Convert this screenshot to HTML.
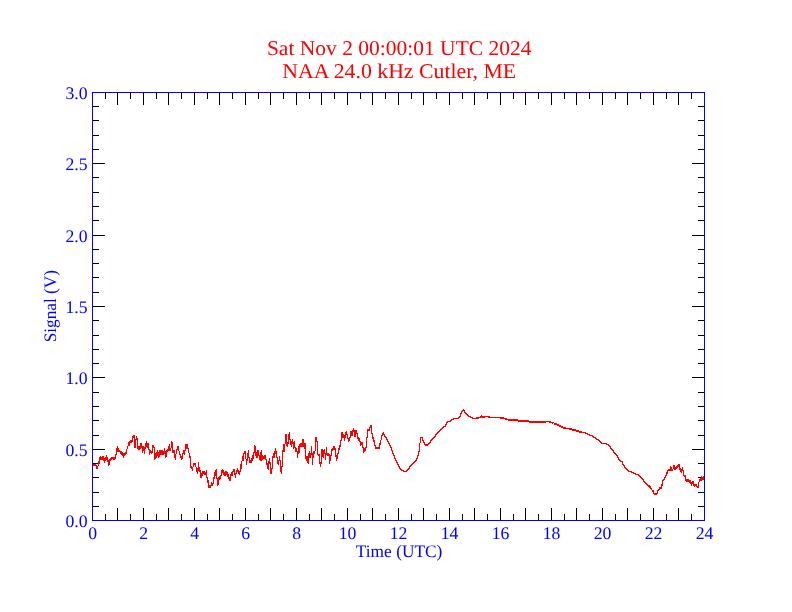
<!DOCTYPE html>
<html><head><meta charset="utf-8"><style>
html,body{margin:0;padding:0;background:#fff;width:792px;height:612px;overflow:hidden}
svg{display:block;will-change:transform;text-rendering:geometricPrecision;font-family:"Liberation Serif",serif}
</style></head><body><svg width="792" height="612" viewBox="0 0 792 612" font-family="Liberation Serif, serif"><path d="M105.5 520v-6M105.5 93v6M117.5 520v-12M117.5 93v12M130.5 520v-6M130.5 93v6M143.5 520v-12M143.5 93v12M156.5 520v-6M156.5 93v6M168.5 520v-12M168.5 93v12M181.5 520v-6M181.5 93v6M194.5 520v-12M194.5 93v12M207.5 520v-6M207.5 93v6M219.5 520v-12M219.5 93v12M232.5 520v-6M232.5 93v6M245.5 520v-12M245.5 93v12M258.5 520v-6M258.5 93v6M270.5 520v-12M270.5 93v12M283.5 520v-6M283.5 93v6M296.5 520v-12M296.5 93v12M309.5 520v-6M309.5 93v6M321.5 520v-12M321.5 93v12M334.5 520v-6M334.5 93v6M347.5 520v-12M347.5 93v12M360.5 520v-6M360.5 93v6M372.5 520v-12M372.5 93v12M385.5 520v-6M385.5 93v6M398.5 520v-12M398.5 93v12M411.5 520v-6M411.5 93v6M423.5 520v-12M423.5 93v12M436.5 520v-6M436.5 93v6M449.5 520v-12M449.5 93v12M462.5 520v-6M462.5 93v6M474.5 520v-12M474.5 93v12M487.5 520v-6M487.5 93v6M500.5 520v-12M500.5 93v12M513.5 520v-6M513.5 93v6M525.5 520v-12M525.5 93v12M538.5 520v-6M538.5 93v6M551.5 520v-12M551.5 93v12M564.5 520v-6M564.5 93v6M576.5 520v-12M576.5 93v12M589.5 520v-6M589.5 93v6M602.5 520v-12M602.5 93v12M615.5 520v-6M615.5 93v6M627.5 520v-12M627.5 93v12M640.5 520v-6M640.5 93v6M653.5 520v-12M653.5 93v12M666.5 520v-6M666.5 93v6M678.5 520v-12M678.5 93v12M691.5 520v-6M691.5 93v6M93 506.5h6M704 506.5h-6M93 492.5h6M704 492.5h-6M93 477.5h6M704 477.5h-6M93 463.5h6M704 463.5h-6M93 449.5h12M704 449.5h-12M93 435.5h6M704 435.5h-6M93 420.5h6M704 420.5h-6M93 406.5h6M704 406.5h-6M93 392.5h6M704 392.5h-6M93 377.5h12M704 377.5h-12M93 363.5h6M704 363.5h-6M93 349.5h6M704 349.5h-6M93 335.5h6M704 335.5h-6M93 320.5h6M704 320.5h-6M93 306.5h12M704 306.5h-12M93 292.5h6M704 292.5h-6M93 277.5h6M704 277.5h-6M93 263.5h6M704 263.5h-6M93 249.5h6M704 249.5h-6M93 235.5h12M704 235.5h-12M93 220.5h6M704 220.5h-6M93 206.5h6M704 206.5h-6M93 192.5h6M704 192.5h-6M93 177.5h6M704 177.5h-6M93 163.5h12M704 163.5h-12M93 149.5h6M704 149.5h-6M93 135.5h6M704 135.5h-6M93 120.5h6M704 120.5h-6M93 106.5h6M704 106.5h-6" stroke="#000" stroke-width="1" fill="none" shape-rendering="crispEdges"/><path d="M93 464h1v2h-1zM94 464h1v2h-1zM95 464h1v2h-1zM96 465h1v4h-1zM97 466h1v3h-1zM98 461h1v5h-1zM99 457h1v7h-1zM100 456h1v4h-1zM101 457h1v3h-1zM102 456h1v4h-1zM103 456h1v5h-1zM104 458h1v5h-1zM105 457h1v4h-1zM106 455h1v5h-1zM107 457h1v5h-1zM108 460h1v6h-1zM109 459h1v6h-1zM110 458h1v3h-1zM111 457h1v3h-1zM112 457h1v2h-1zM113 457h1v3h-1zM114 457h1v3h-1zM115 454h1v5h-1zM116 448h1v7h-1zM117 446h1v6h-1zM118 448h1v4h-1zM119 450h1v2h-1zM120 451h1v3h-1zM121 451h1v4h-1zM122 452h1v4h-1zM123 453h1v5h-1zM124 453h1v3h-1zM125 452h1v3h-1zM126 449h1v5h-1zM127 446h1v3h-1zM128 442h1v4h-1zM129 441h1v5h-1zM130 440h1v3h-1zM131 440h1v3h-1zM132 436h1v6h-1zM133 435h1v3h-1zM134 435h1v13h-1zM135 439h1v9h-1zM136 436h1v4h-1zM137 438h1v11h-1zM138 446h1v4h-1zM139 446h1v4h-1zM140 443h1v6h-1zM141 443h1v5h-1zM142 446h1v7h-1zM143 446h1v5h-1zM144 447h1v7h-1zM145 443h1v6h-1zM146 441h1v6h-1zM147 443h1v5h-1zM148 443h1v7h-1zM149 449h1v6h-1zM150 450h1v3h-1zM151 451h1v3h-1zM152 445h1v8h-1zM153 445h1v3h-1zM154 447h1v13h-1zM155 453h1v6h-1zM156 452h1v6h-1zM157 450h1v6h-1zM158 452h1v6h-1zM159 450h1v7h-1zM160 450h1v5h-1zM161 450h1v5h-1zM162 450h1v5h-1zM163 451h1v4h-1zM164 448h1v6h-1zM165 451h1v7h-1zM166 450h1v7h-1zM167 449h1v3h-1zM168 446h1v5h-1zM169 444h1v7h-1zM170 448h1v3h-1zM171 441h1v7h-1zM172 442h1v11h-1zM173 450h1v3h-1zM174 450h1v8h-1zM175 454h1v6h-1zM176 449h1v5h-1zM177 446h1v4h-1zM178 446h1v5h-1zM179 451h1v4h-1zM180 454h1v4h-1zM181 456h1v4h-1zM182 453h1v6h-1zM183 450h1v4h-1zM184 450h1v5h-1zM185 444h1v7h-1zM186 444h1v5h-1zM187 444h1v5h-1zM188 448h1v5h-1zM189 453h1v5h-1zM190 456h1v12h-1zM191 466h1v3h-1zM192 467h1v4h-1zM193 463h1v4h-1zM194 463h1v2h-1zM195 463h1v4h-1zM196 467h1v5h-1zM197 468h1v6h-1zM198 462h1v9h-1zM199 467h1v5h-1zM200 470h1v8h-1zM201 473h1v5h-1zM202 471h1v5h-1zM203 471h1v3h-1zM204 471h1v4h-1zM205 472h1v3h-1zM206 470h1v8h-1zM207 477h1v6h-1zM208 480h1v8h-1zM209 485h1v3h-1zM210 485h1v3h-1zM211 482h1v4h-1zM212 483h1v3h-1zM213 477h1v7h-1zM214 472h1v7h-1zM215 470h1v6h-1zM216 469h1v10h-1zM217 478h1v8h-1zM218 477h1v8h-1zM219 476h1v4h-1zM220 475h1v4h-1zM221 470h1v6h-1zM222 469h1v4h-1zM223 470h1v5h-1zM224 472h1v4h-1zM225 471h1v5h-1zM226 471h1v4h-1zM227 472h1v5h-1zM228 474h1v5h-1zM229 477h1v4h-1zM230 474h1v7h-1zM231 472h1v4h-1zM232 471h1v5h-1zM233 469h1v3h-1zM234 469h1v6h-1zM235 473h1v5h-1zM236 470h1v4h-1zM237 468h1v4h-1zM238 470h1v4h-1zM239 471h1v4h-1zM240 464h1v8h-1zM241 461h1v8h-1zM242 456h1v5h-1zM243 453h1v8h-1zM244 451h1v3h-1zM245 451h1v8h-1zM246 459h1v6h-1zM247 453h1v8h-1zM248 450h1v8h-1zM249 457h1v6h-1zM250 460h1v3h-1zM251 458h1v5h-1zM252 455h1v6h-1zM253 452h1v7h-1zM254 445h1v8h-1zM255 446h1v10h-1zM256 452h1v6h-1zM257 450h1v8h-1zM258 450h1v6h-1zM259 455h1v5h-1zM260 452h1v9h-1zM261 450h1v11h-1zM262 455h1v5h-1zM263 456h1v3h-1zM264 455h1v4h-1zM265 455h1v5h-1zM266 459h1v6h-1zM267 463h1v6h-1zM268 461h1v9h-1zM269 458h1v6h-1zM270 462h1v12h-1zM271 468h1v6h-1zM272 456h1v13h-1zM273 453h1v5h-1zM274 451h1v7h-1zM275 448h1v6h-1zM276 451h1v7h-1zM277 457h1v7h-1zM278 460h1v5h-1zM279 456h1v5h-1zM280 460h1v12h-1zM281 466h1v8h-1zM282 450h1v17h-1zM283 444h1v8h-1zM284 444h1v8h-1zM285 434h1v10h-1zM286 434h1v12h-1zM287 442h1v5h-1zM288 434h1v10h-1zM289 432h1v8h-1zM290 439h1v6h-1zM291 441h1v6h-1zM292 439h1v5h-1zM293 442h1v7h-1zM294 441h1v7h-1zM295 447h1v5h-1zM296 448h1v4h-1zM297 451h1v7h-1zM298 446h1v8h-1zM299 444h1v9h-1zM300 443h1v4h-1zM301 443h1v4h-1zM302 439h1v8h-1zM303 439h1v8h-1zM304 443h1v6h-1zM305 443h1v16h-1zM306 456h1v5h-1zM307 456h1v7h-1zM308 453h1v11h-1zM309 451h1v7h-1zM310 453h1v5h-1zM311 446h1v9h-1zM312 453h1v12h-1zM313 451h1v7h-1zM314 451h1v3h-1zM315 437h1v14h-1zM316 437h1v5h-1zM317 441h1v14h-1zM318 454h1v2h-1zM319 454h1v10h-1zM320 462h1v5h-1zM321 449h1v15h-1zM322 449h1v8h-1zM323 450h1v8h-1zM324 449h1v5h-1zM325 453h1v7h-1zM326 447h1v8h-1zM327 453h1v3h-1zM328 453h1v3h-1zM329 454h1v10h-1zM330 455h1v6h-1zM331 449h1v7h-1zM332 448h1v3h-1zM333 446h1v4h-1zM334 446h1v4h-1zM335 448h1v9h-1zM336 455h1v6h-1zM337 453h1v6h-1zM338 448h1v6h-1zM339 445h1v5h-1zM340 440h1v7h-1zM341 432h1v9h-1zM342 432h1v6h-1zM343 434h1v4h-1zM344 435h1v6h-1zM345 432h1v6h-1zM346 431h1v4h-1zM347 434h1v5h-1zM348 438h1v4h-1zM349 437h1v4h-1zM350 431h1v7h-1zM351 431h1v5h-1zM352 430h1v6h-1zM353 428h1v4h-1zM354 430h1v7h-1zM355 430h1v7h-1zM356 430h1v4h-1zM357 433h1v6h-1zM358 437h1v4h-1zM359 438h1v4h-1zM360 441h1v5h-1zM361 442h1v3h-1zM362 442h1v6h-1zM363 447h1v6h-1zM364 448h1v4h-1zM365 447h1v4h-1zM366 437h1v11h-1zM367 429h1v9h-1zM368 429h1v2h-1zM369 427h1v4h-1zM370 425h1v3h-1zM371 425h1v9h-1zM372 433h1v6h-1zM373 437h1v5h-1zM374 440h1v6h-1zM375 445h1v4h-1zM376 447h1v2h-1zM377 447h1v2h-1zM378 447h1v2h-1zM379 443h1v6h-1zM380 440h1v5h-1zM381 435h1v5h-1zM382 433h1v3h-1zM383 432h1v3h-1zM384 434h1v3h-1zM385 436h1v2h-1zM386 437h1v3h-1zM387 439h1v3h-1zM388 441h1v3h-1zM389 443h1v3h-1zM390 445h1v3h-1zM391 447h1v4h-1zM392 450h1v4h-1zM393 453h1v3h-1zM394 455h1v4h-1zM395 458h1v3h-1zM396 460h1v3h-1zM397 462h1v3h-1zM398 464h1v3h-1zM399 466h1v3h-1zM400 468h1v2h-1zM401 469h1v2h-1zM402 470h1v1h-1zM403 470h1v2h-1zM404 471h1v1h-1zM405 471h1v1h-1zM406 470h1v2h-1zM407 469h1v2h-1zM408 468h1v2h-1zM409 466h1v3h-1zM410 465h1v2h-1zM411 464h1v2h-1zM412 463h1v2h-1zM413 462h1v2h-1zM414 461h1v2h-1zM415 460h1v2h-1zM416 458h1v3h-1zM417 455h1v4h-1zM418 451h1v5h-1zM419 443h1v9h-1zM420 437h1v6h-1zM421 437h1v1h-1zM422 437h1v4h-1zM423 440h1v3h-1zM424 442h1v3h-1zM425 444h1v2h-1zM426 444h1v2h-1zM427 444h1v2h-1zM428 443h1v2h-1zM429 442h1v2h-1zM430 440h1v3h-1zM431 439h1v2h-1zM432 438h1v2h-1zM433 437h1v2h-1zM434 436h1v2h-1zM435 434h1v3h-1zM436 433h1v2h-1zM437 432h1v2h-1zM438 431h1v2h-1zM439 430h1v2h-1zM440 429h1v2h-1zM441 428h1v2h-1zM442 427h1v2h-1zM443 426h1v2h-1zM444 426h1v1h-1zM445 424h1v3h-1zM446 422h1v3h-1zM447 421h1v2h-1zM448 421h1v1h-1zM449 421h1v1h-1zM450 420h1v2h-1zM451 419h1v2h-1zM452 419h1v1h-1zM453 418h1v2h-1zM454 418h1v1h-1zM455 418h1v1h-1zM456 418h1v1h-1zM457 418h1v1h-1zM458 417h1v2h-1zM459 416h1v2h-1zM460 413h1v4h-1zM461 411h1v3h-1zM462 410h1v2h-1zM463 409h1v2h-1zM464 410h1v3h-1zM465 412h1v2h-1zM466 413h1v2h-1zM467 414h1v2h-1zM468 415h1v2h-1zM469 416h1v1h-1zM470 416h1v2h-1zM471 417h1v1h-1zM472 417h1v2h-1zM473 418h1v1h-1zM474 418h1v1h-1zM475 418h1v1h-1zM476 417h1v2h-1zM477 417h1v2h-1zM478 417h1v2h-1zM479 417h1v1h-1zM480 416h1v2h-1zM481 415h1v3h-1zM482 416h1v2h-1zM483 416h1v2h-1zM484 416h1v2h-1zM485 416h1v1h-1zM486 416h1v1h-1zM487 416h1v1h-1zM488 416h1v2h-1zM489 416h1v2h-1zM490 417h1v1h-1zM491 417h1v1h-1zM492 417h1v1h-1zM493 417h1v1h-1zM494 417h1v1h-1zM495 417h1v1h-1zM496 417h1v1h-1zM497 417h1v1h-1zM498 417h1v1h-1zM499 417h1v1h-1zM500 417h1v2h-1zM501 417h1v2h-1zM502 417h1v2h-1zM503 417h1v2h-1zM504 418h1v1h-1zM505 418h1v2h-1zM506 418h1v2h-1zM507 419h1v1h-1zM508 419h1v2h-1zM509 419h1v2h-1zM510 419h1v2h-1zM511 419h1v2h-1zM512 419h1v2h-1zM513 419h1v2h-1zM514 419h1v2h-1zM515 419h1v2h-1zM516 419h1v2h-1zM517 419h1v2h-1zM518 420h1v2h-1zM519 420h1v2h-1zM520 420h1v2h-1zM521 420h1v2h-1zM522 420h1v2h-1zM523 420h1v2h-1zM524 420h1v2h-1zM525 420h1v2h-1zM526 420h1v2h-1zM527 420h1v2h-1zM528 420h1v2h-1zM529 421h1v2h-1zM530 421h1v2h-1zM531 421h1v2h-1zM532 421h1v2h-1zM533 421h1v2h-1zM534 421h1v2h-1zM535 421h1v2h-1zM536 421h1v2h-1zM537 421h1v2h-1zM538 421h1v2h-1zM539 421h1v2h-1zM540 421h1v2h-1zM541 421h1v2h-1zM542 421h1v2h-1zM543 421h1v2h-1zM544 421h1v2h-1zM545 421h1v2h-1zM546 421h1v1h-1zM547 421h1v1h-1zM548 421h1v1h-1zM549 421h1v2h-1zM550 421h1v2h-1zM551 422h1v1h-1zM552 422h1v2h-1zM553 422h1v1h-1zM554 423h1v2h-1zM555 423h1v2h-1zM556 423h1v2h-1zM557 424h1v2h-1zM558 424h1v2h-1zM559 425h1v2h-1zM560 425h1v2h-1zM561 426h1v2h-1zM562 426h1v2h-1zM563 427h1v2h-1zM564 427h1v2h-1zM565 427h1v2h-1zM566 428h1v1h-1zM567 428h1v1h-1zM568 428h1v1h-1zM569 428h1v2h-1zM570 428h1v2h-1zM571 428h1v2h-1zM572 429h1v2h-1zM573 429h1v2h-1zM574 429h1v2h-1zM575 429h1v2h-1zM576 430h1v2h-1zM577 430h1v2h-1zM578 430h1v2h-1zM579 431h1v2h-1zM580 431h1v2h-1zM581 431h1v2h-1zM582 432h1v1h-1zM583 432h1v1h-1zM584 432h1v1h-1zM585 432h1v2h-1zM586 433h1v1h-1zM587 433h1v2h-1zM588 434h1v1h-1zM589 434h1v2h-1zM590 435h1v1h-1zM591 435h1v1h-1zM592 435h1v2h-1zM593 436h1v2h-1zM594 437h1v1h-1zM595 437h1v2h-1zM596 438h1v2h-1zM597 439h1v1h-1zM598 439h1v2h-1zM599 440h1v2h-1zM600 441h1v2h-1zM601 442h1v2h-1zM602 443h1v1h-1zM603 443h1v1h-1zM604 443h1v1h-1zM605 443h1v1h-1zM606 443h1v2h-1zM607 444h1v1h-1zM608 444h1v2h-1zM609 445h1v2h-1zM610 446h1v3h-1zM611 448h1v2h-1zM612 449h1v2h-1zM613 450h1v3h-1zM614 452h1v2h-1zM615 453h1v2h-1zM616 454h1v2h-1zM617 455h1v3h-1zM618 457h1v3h-1zM619 459h1v2h-1zM620 460h1v2h-1zM621 461h1v1h-1zM622 461h1v4h-1zM623 464h1v2h-1zM624 465h1v3h-1zM625 467h1v2h-1zM626 468h1v2h-1zM627 469h1v2h-1zM628 470h1v2h-1zM629 471h1v1h-1zM630 471h1v1h-1zM631 471h1v2h-1zM632 472h1v1h-1zM633 472h1v2h-1zM634 473h1v1h-1zM635 473h1v2h-1zM636 474h1v1h-1zM637 474h1v1h-1zM638 474h1v2h-1zM639 475h1v2h-1zM640 476h1v2h-1zM641 477h1v2h-1zM642 478h1v2h-1zM643 479h1v3h-1zM644 481h1v2h-1zM645 482h1v2h-1zM646 483h1v2h-1zM647 484h1v2h-1zM648 485h1v2h-1zM649 485h1v3h-1zM650 486h1v3h-1zM651 488h1v2h-1zM652 490h1v2h-1zM653 490h1v4h-1zM654 493h1v2h-1zM655 493h1v2h-1zM656 493h1v2h-1zM657 490h1v4h-1zM658 489h1v2h-1zM659 487h1v3h-1zM660 487h1v2h-1zM661 484h1v5h-1zM662 480h1v6h-1zM663 479h1v2h-1zM664 477h1v3h-1zM665 475h1v3h-1zM666 472h1v4h-1zM667 470h1v4h-1zM668 469h1v2h-1zM669 469h1v2h-1zM670 466h1v5h-1zM671 467h1v4h-1zM672 469h1v2h-1zM673 465h1v4h-1zM674 465h1v5h-1zM675 467h1v3h-1zM676 466h1v3h-1zM677 465h1v3h-1zM678 464h1v3h-1zM679 464h1v6h-1zM680 468h1v4h-1zM681 469h1v4h-1zM682 467h1v4h-1zM683 470h1v6h-1zM684 475h1v2h-1zM685 475h1v6h-1zM686 479h1v3h-1zM687 479h1v3h-1zM688 479h1v3h-1zM689 480h1v3h-1zM690 480h1v4h-1zM691 482h1v4h-1zM692 481h1v3h-1zM693 481h1v5h-1zM694 484h1v3h-1zM695 484h1v2h-1zM696 484h1v3h-1zM697 486h1v2h-1zM698 482h1v6h-1zM699 479h1v3h-1zM700 478h1v3h-1zM701 476h1v5h-1zM702 477h1v3h-1zM703 476h1v4h-1z" fill="#f00" shape-rendering="crispEdges"/><path d="M92.5 92.5H704.5V520.5H92.5Z" fill="none" stroke="#00f" stroke-width="1" shape-rendering="crispEdges"/><g fill="#00f" font-size="17"><text x="92.6" y="539.4" font-size="17.7" text-anchor="middle">0</text><text x="143.6" y="539.4" font-size="17.7" text-anchor="middle">2</text><text x="194.6" y="539.4" font-size="17.7" text-anchor="middle">4</text><text x="245.6" y="539.4" font-size="17.7" text-anchor="middle">6</text><text x="296.6" y="539.4" font-size="17.7" text-anchor="middle">8</text><text x="347.6" y="539.4" font-size="17.7" text-anchor="middle">10</text><text x="398.6" y="539.4" font-size="17.7" text-anchor="middle">12</text><text x="449.6" y="539.4" font-size="17.7" text-anchor="middle">14</text><text x="500.6" y="539.4" font-size="17.7" text-anchor="middle">16</text><text x="551.6" y="539.4" font-size="17.7" text-anchor="middle">18</text><text x="602.6" y="539.4" font-size="17.7" text-anchor="middle">20</text><text x="653.6" y="539.4" font-size="17.7" text-anchor="middle">22</text><text x="704.6" y="539.4" font-size="17.7" text-anchor="middle">24</text><text x="87.6" y="527.1" font-size="17.7" text-anchor="end">0.0</text><text x="87.6" y="456.1" font-size="17.7" text-anchor="end">0.5</text><text x="87.6" y="384.1" font-size="17.7" text-anchor="end">1.0</text><text x="87.6" y="313.1" font-size="17.7" text-anchor="end">1.5</text><text x="87.6" y="242.1" font-size="17.7" text-anchor="end">2.0</text><text x="87.6" y="170.1" font-size="17.7" text-anchor="end">2.5</text><text x="87.6" y="99.1" font-size="17.7" text-anchor="end">3.0</text><text x="399.1" y="556.6" font-size="17.5" textLength="86.6" lengthAdjust="spacingAndGlyphs" text-anchor="middle">Time (UTC)</text><text transform="translate(55.8 306.2) rotate(-90)" font-size="17.5" textLength="72.2" lengthAdjust="spacingAndGlyphs" text-anchor="middle">Signal (V)</text></g><g fill="#f00" font-size="21" text-anchor="middle"><text x="399.2" y="55.2" textLength="264.6" lengthAdjust="spacingAndGlyphs">Sat Nov 2 00:00:01 UTC 2024</text><text x="399.2" y="78.3" textLength="234.0" lengthAdjust="spacingAndGlyphs">NAA 24.0 kHz Cutler, ME</text></g></svg></body></html>
